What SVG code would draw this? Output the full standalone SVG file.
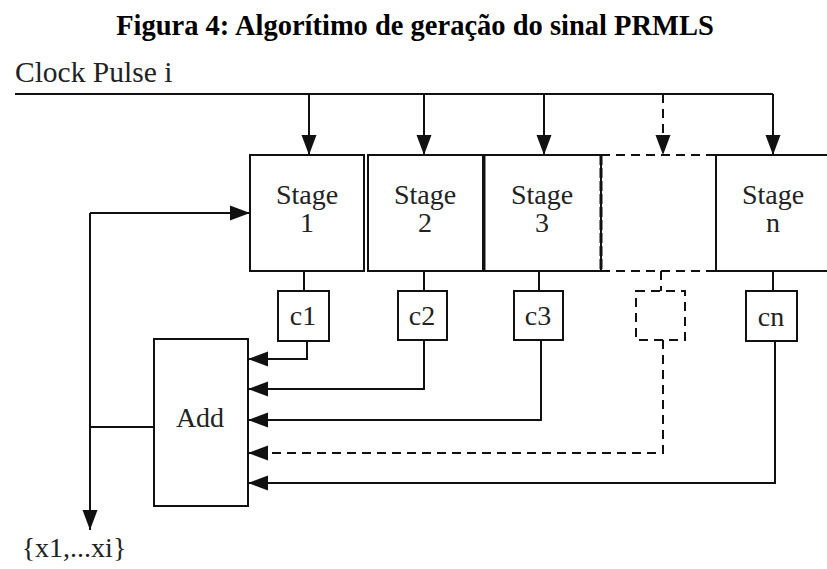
<svg xmlns="http://www.w3.org/2000/svg" width="827" height="569" viewBox="0 0 827 569">
<style>
.ln{fill:none;stroke:#111;stroke-width:2}
.dsh{stroke-dasharray:9,6}
.box{fill:#fff;stroke:#111;stroke-width:2}
.t{font-family:"Liberation Serif","Times New Roman",serif;font-size:28px;fill:#222;text-anchor:middle}
.title{font-family:"Liberation Serif","Times New Roman",serif;font-size:28.5px;font-weight:bold;fill:#000;text-anchor:middle}
</style>
<defs>
<marker id="ah" markerUnits="userSpaceOnUse" viewBox="0 0 20 16" refX="20" refY="8" markerWidth="20" markerHeight="16" orient="auto">
<path d="M0,0.5 L20,8 L0,15.5 z" fill="#111"/>
</marker>
</defs>
<rect width="827" height="569" fill="#fff"/>
<text class="title" x="415" y="35">Figura 4: Algorítimo de geração do sinal PRMLS</text>
<text class="t" x="15" y="82" style="text-anchor:start;font-size:29.5px">Clock Pulse i</text>

<g id="stage1"><rect class="box" x="250" y="155" width="114" height="116"/><text class="t" x="307" y="204">Stage</text><text class="t" x="307" y="232">1</text></g>
<g id="stage2"><rect class="box" x="368" y="155" width="115" height="116"/><text class="t" x="425" y="204">Stage</text><text class="t" x="425" y="232">2</text></g>
<g id="stage3"><rect class="box" x="484" y="155" width="117" height="116"/><line x1="484" y1="155" x2="484" y2="271" stroke="#111" stroke-width="3"/><text class="t" x="542" y="204">Stage</text><text class="t" x="542" y="232">3</text></g>
<g id="stageDashed"><path class="ln dsh" d="M601,155 H716 M601,271 H716"/><line x1="601" y1="155" x2="601" y2="271" stroke="#111" stroke-width="3" stroke-dasharray="10,3"/></g>
<g id="stageN"><path class="ln" d="M828,155 H716 V271 H828"/><text class="t" x="773" y="204">Stage</text><text class="t" x="773" y="232">n</text></g>

<g id="c1"><rect class="box" x="278" y="291" width="51" height="50"/><text class="t" x="303" y="325">c1</text></g>
<g id="c2"><rect class="box" x="398" y="291" width="49" height="49"/><text class="t" x="422" y="325">c2</text></g>
<g id="c3"><rect class="box" x="514" y="291" width="49" height="49"/><text class="t" x="538" y="325">c3</text></g>
<g id="cDashed"><rect class="ln dsh" x="636" y="291" width="49" height="49" fill="none"/></g>
<g id="cn"><rect class="box" x="746" y="291" width="51" height="50"/><text class="t" x="771" y="326">cn</text></g>

<g id="add"><rect class="box" x="154" y="339" width="94" height="167"/><text class="t" x="200" y="427">Add</text></g>
<g id="output"><text class="t" x="74" y="557">{x1,...xi}</text></g>

<g id="connectors">
<path class="ln" d="M15,94 H773"/>
<line class="ln" x1="309" y1="94" x2="309" y2="155" marker-end="url(#ah)"/>
<line class="ln" x1="424" y1="94" x2="424" y2="155" marker-end="url(#ah)"/>
<line class="ln" x1="544" y1="94" x2="544" y2="155" marker-end="url(#ah)"/>
<line class="ln dsh" x1="663" y1="94" x2="663" y2="155" marker-end="url(#ah)"/>
<line class="ln" x1="773" y1="94" x2="773" y2="155" marker-end="url(#ah)"/>

<line class="ln" x1="304" y1="271" x2="304" y2="291"/>
<line class="ln" x1="424" y1="271" x2="424" y2="291"/>
<line class="ln" x1="539" y1="271" x2="539" y2="291"/>
<line class="ln dsh" x1="661" y1="271" x2="661" y2="291"/>
<line class="ln" x1="773" y1="271" x2="773" y2="291"/>

<path class="ln" d="M307,341 V359 H248" marker-end="url(#ah)"/>
<path class="ln" d="M424,340 V389 H248" marker-end="url(#ah)"/>
<path class="ln" d="M541,340 V420 H248" marker-end="url(#ah)"/>
<path class="ln dsh" d="M663,340 V453 H248" marker-end="url(#ah)"/>
<path class="ln" d="M775,341 V483 H248" marker-end="url(#ah)"/>

<path class="ln" d="M154,427 H90"/>
<path class="ln" d="M90,213 H250" marker-end="url(#ah)"/>
<path class="ln" d="M90,213 V530" marker-end="url(#ah)"/>
</g>
</svg>
